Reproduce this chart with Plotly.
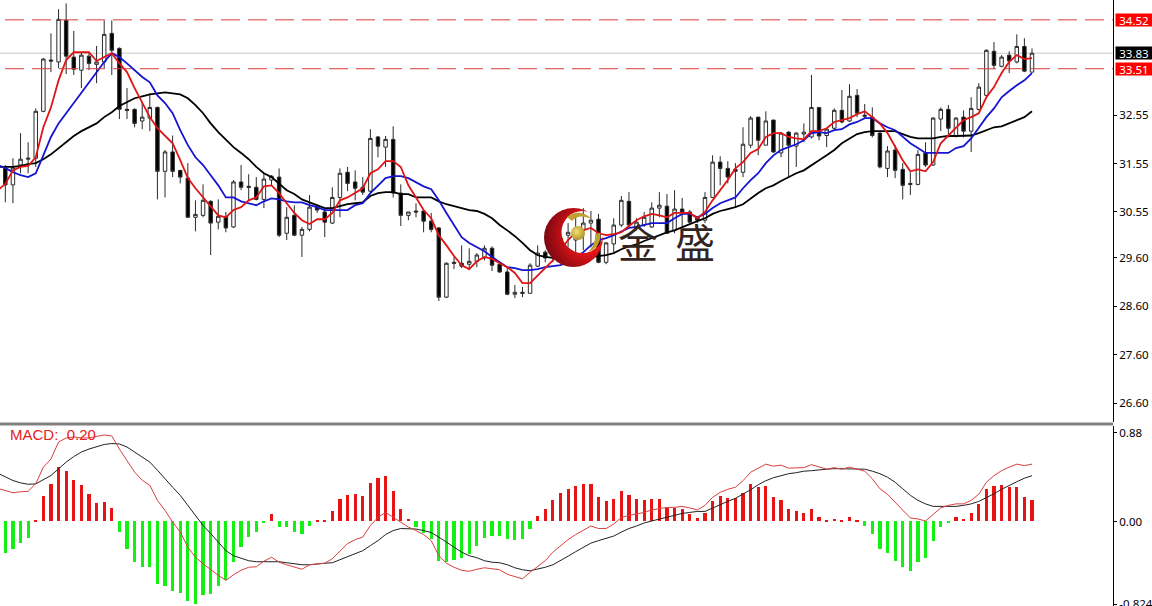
import base64
import plotly.graph_objects as go
from plotly.subplots import make_subplots

directions = ("DUUUUUDUDD" "UDUUDDDDUU" "DUDDDUUDUD" "UDDDUUDUDU" "UDDUUDDDUD"
              "UDDUDDDDUD" "DUUUDDDUDU" "UDUUUUUUDU" "UUDUUUUDUD" "DDUUDDDUUD"
              "UDUDUUUDUU" "DUDDDDUDDD" "UDUUDUDUUU" "DUDUDU")

highs = [31.52,31.66,32.18,31.99,32.69,33.73,34.24,34.74,34.86,34.29,
33.85,33.85,33.98,34.51,34.51,33.95,33.11,32.69,32.82,33.00,
32.73,31.83,32.13,31.41,31.56,30.79,31.12,30.79,30.81,30.55,
31.21,31.52,31.33,31.27,31.35,31.31,31.45,30.65,30.69,30.24,
30.90,30.69,30.63,31.06,31.45,31.48,31.41,31.27,32.26,32.12,
32.12,32.32,31.12,30.55,30.73,30.59,30.53,30.24,29.51,29.62,
29.86,29.80,29.70,29.86,29.84,29.51,29.39,29.04,29.00,29.49,
29.86,29.76,29.91,30.28,30.32,30.48,30.63,30.57,30.51,29.93,
30.42,30.88,30.96,30.42,30.55,30.75,30.96,30.92,31.00,30.84,
30.59,30.44,30.96,31.72,31.70,31.60,31.56,32.30,32.53,32.51,
32.63,32.45,32.20,32.22,32.20,32.38,33.38,32.71,32.28,32.69,
33.07,33.19,33.09,32.78,32.71,32.20,31.91,31.93,31.56,31.37,
31.83,31.99,32.51,32.71,32.76,32.51,32.65,32.92,33.21,33.91,
34.06,33.79,33.87,34.22,34.14,33.93]

body_tops = [31.46,31.46,31.64,31.66,32.63,33.71,33.69,34.53,34.51,33.75,
33.79,33.77,33.65,34.22,34.24,33.93,32.67,32.67,32.51,32.71,
32.71,31.79,31.79,31.41,31.25,30.50,30.79,30.77,30.46,30.46,
31.17,31.17,31.08,31.06,31.23,31.29,31.27,30.44,30.48,30.19,
30.65,30.65,30.55,30.85,31.35,31.37,31.17,31.06,32.07,32.10,
32.05,32.05,30.94,30.55,30.57,30.57,30.36,30.22,29.49,29.51,
29.49,29.53,29.66,29.80,29.80,29.47,29.31,28.89,28.89,29.45,
29.70,29.72,29.87,30.01,30.13,30.22,30.32,30.38,30.40,29.91,
30.28,30.79,30.77,30.34,30.44,30.63,30.69,30.67,30.61,30.61,
30.55,30.44,30.85,31.58,31.58,31.45,31.43,31.95,32.49,32.51,
32.43,32.45,32.18,32.20,32.18,32.20,32.71,32.71,32.26,32.65,
32.65,32.94,32.96,32.55,32.51,32.18,31.81,31.83,31.43,31.14,
31.74,31.77,32.49,32.67,32.67,32.49,32.51,32.69,33.13,33.89,
33.87,33.75,33.79,33.97,33.97,33.83]

body_bottoms = [31.11,31.11,31.52,31.64,31.66,32.63,33.67,33.65,33.77,33.50,
33.48,33.62,33.60,33.65,33.89,32.67,32.65,32.38,32.43,32.49,
31.39,31.39,31.39,31.27,30.44,30.44,30.48,30.32,30.34,30.22,
30.24,31.06,31.06,30.81,30.81,31.21,30.07,30.11,30.07,30.07,
30.19,30.59,30.34,30.32,30.85,31.14,31.04,30.96,30.98,31.91,
31.89,30.94,30.48,30.48,30.55,30.36,30.19,28.79,28.79,29.49,
29.43,29.47,29.53,29.60,29.45,29.31,28.85,28.85,28.87,28.87,
29.43,29.60,29.66,29.80,30.07,29.97,30.17,30.32,29.51,29.51,
29.89,30.28,30.28,30.24,30.28,30.24,30.63,30.11,30.17,30.55,
30.34,30.38,30.38,30.85,31.45,31.27,31.39,31.37,31.93,32.03,
31.93,31.79,31.77,31.93,31.91,32.16,32.10,32.12,32.13,32.28,
32.41,32.43,32.59,32.53,32.13,31.48,31.45,31.41,31.10,31.12,
31.12,31.52,31.52,32.47,32.28,32.12,32.22,32.22,32.67,32.96,
33.58,33.56,33.67,33.65,33.46,33.44]

lows = [30.75,30.73,31.35,31.35,31.48,32.61,33.44,33.52,33.40,33.38,
33.11,33.48,33.21,33.52,33.38,32.47,32.47,32.30,32.26,32.22,
30.81,30.85,31.27,31.14,30.44,30.15,30.44,29.66,30.19,30.13,
30.22,31.00,30.79,30.79,30.63,31.10,30.03,29.97,30.05,29.62,
30.15,30.53,30.03,30.30,30.44,30.98,30.79,30.90,30.96,31.68,
31.48,30.85,30.26,30.38,30.44,30.13,30.13,28.71,28.77,29.37,
29.39,29.35,29.41,29.55,29.33,29.29,28.83,28.77,28.79,28.87,
29.41,29.51,29.51,29.60,29.82,29.72,29.76,29.82,29.49,29.47,
29.72,30.24,30.24,30.17,30.24,30.22,30.44,30.11,30.11,30.24,
30.32,30.32,30.32,30.85,31.10,31.14,30.65,31.27,31.87,31.72,
31.93,31.77,31.68,31.27,31.48,31.99,32.07,32.03,31.89,32.24,
32.38,32.41,32.51,32.49,32.09,31.45,31.27,31.25,30.81,30.90,
31.10,31.48,31.50,32.22,32.09,32.09,32.09,31.79,32.65,32.92,
33.50,33.54,33.42,33.62,33.44,33.44]

# line series start one bar before the first visible candle, as the chart is cut at its left edge
ma_red = [31.00,31.13,31.41,31.48,31.50,31.68,32.30,32.71,33.27,33.69,33.85,
33.85,33.85,33.67,33.75,33.83,33.62,33.44,33.11,32.80,32.51,
32.28,32.13,31.97,31.62,31.25,31.04,30.85,30.67,30.48,30.44,
30.59,30.65,30.79,30.85,31.08,31.10,30.94,30.73,30.53,30.38,
30.30,30.40,30.40,30.53,30.79,30.85,30.94,31.04,31.35,31.43,
31.60,31.60,31.48,31.10,30.85,30.59,30.42,30.07,29.86,29.64,
29.45,29.37,29.53,29.62,29.58,29.49,29.41,29.29,29.08,29.08,
29.24,29.39,29.55,29.76,29.97,30.13,30.17,30.22,30.11,30.07,
30.09,30.13,30.26,30.38,30.46,30.51,30.48,30.44,30.53,30.53,
30.53,30.42,30.55,30.79,31.00,31.21,31.45,31.58,31.77,31.85,
32.10,32.18,32.18,32.10,32.07,32.05,32.22,32.22,32.28,32.41,
32.45,32.49,32.57,32.63,32.51,32.38,32.18,31.89,31.62,31.39,
31.43,31.39,31.58,31.97,32.13,32.30,32.45,32.51,32.59,32.92,
33.13,33.42,33.65,33.79,33.71,33.73]

ma_blue = [31.52,31.46,31.37,31.31,31.27,31.35,31.72,32.10,32.38,32.59,32.80,
33.00,33.21,33.42,33.65,33.83,33.75,33.62,33.48,33.34,33.23,
32.96,32.80,32.59,32.24,31.93,31.68,31.52,31.31,31.10,30.85,
30.85,30.77,30.73,30.69,30.77,30.83,30.81,30.77,30.75,30.75,
30.69,30.65,30.59,30.59,30.59,30.59,30.69,30.73,30.94,31.10,
31.25,31.29,31.29,31.25,31.17,31.08,31.02,30.79,30.53,30.28,
30.03,29.91,29.82,29.74,29.62,29.51,29.41,29.39,29.35,29.35,
29.37,29.41,29.43,29.45,29.51,29.60,29.72,29.86,29.97,30.01,
30.07,30.15,30.22,30.24,30.28,30.32,30.32,30.32,30.42,30.51,
30.51,30.44,30.51,30.63,30.73,30.79,30.85,31.04,31.21,31.35,
31.56,31.72,31.83,31.89,31.95,32.03,32.18,32.20,32.18,32.24,
32.26,32.36,32.41,32.49,32.49,32.38,32.30,32.24,32.10,31.97,
31.87,31.77,31.77,31.77,31.77,31.87,31.91,32.07,32.28,32.51,
32.69,32.92,33.05,33.17,33.27,33.42]

ma_black = [31.48,31.48,31.48,31.50,31.54,31.56,31.64,31.74,31.87,31.99,32.12,
32.22,32.30,32.38,32.51,32.61,32.74,32.82,32.90,32.94,32.98,
33.00,33.02,33.00,32.98,32.90,32.76,32.59,32.38,32.20,32.05,
31.89,31.77,31.64,31.48,31.35,31.27,31.14,31.00,30.92,30.81,
30.75,30.69,30.63,30.63,30.67,30.71,30.73,30.75,30.88,30.94,
30.96,30.96,30.92,30.92,30.85,30.85,30.85,30.77,30.71,30.67,
30.63,30.59,30.57,30.51,30.42,30.28,30.17,30.05,29.91,29.76,
29.66,29.62,29.60,29.58,29.58,29.60,29.60,29.62,29.64,29.66,
29.70,29.78,29.84,29.88,29.95,30.01,30.07,30.13,30.17,30.24,
30.30,30.36,30.42,30.51,30.57,30.61,30.65,30.71,30.83,30.94,
31.04,31.10,31.19,31.27,31.35,31.41,31.52,31.62,31.72,31.83,
31.97,32.07,32.16,32.20,32.22,32.22,32.22,32.22,32.16,32.10,
32.07,32.07,32.07,32.10,32.12,32.12,32.12,32.13,32.18,32.24,
32.30,32.32,32.38,32.45,32.51,32.63]

macd_hist = [-.315,-.27,-.21,-.165,.01,.25,.375,.54,.505,.415,
.36,.27,.185,.195,.135,-.105,-.27,-.40,-.455,-.455,
-.625,-.64,-.69,-.71,-.795,-.82,-.735,-.72,-.64,-.585,
-.40,-.255,-.155,-.105,-.01,.07,-.05,-.055,-.105,-.12,
-.04,.01,.01,.10,.22,.26,.27,.25,.385,.43,
.455,.30,.125,.02,-.05,-.115,-.17,-.39,-.40,-.38,
-.36,-.32,-.24,-.16,-.14,-.14,-.17,-.18,-.17,-.07,
.055,.12,.215,.28,.325,.35,.37,.37,.24,.205,
.225,.30,.26,.22,.215,.225,.22,.135,.13,.12,
.07,.03,.08,.205,.25,.23,.23,.28,.375,.34,
.355,.24,.215,.125,.10,.08,.12,.04,.015,.025,
.01,.04,.01,-.04,-.12,-.275,-.31,-.39,-.455,-.495,
-.40,-.36,-.19,-.05,-.01,.04,.02,.08,.17,.32,
.35,.365,.34,.34,.24,.21]

macd_black = [.48,.447,.407,.384,.37,.374,.414,.457,.523,.59,.645,
.69,.72,.745,.765,.775,.77,.74,.69,.64,.59,
.51,.42,.34,.26,.16,.06,-.04,-.12,-.205,-.29,
-.34,-.365,-.39,-.40,-.40,-.395,-.40,-.41,-.42,-.43,
-.43,-.42,-.415,-.41,-.38,-.35,-.315,-.29,-.24,-.19,
-.13,-.09,-.07,-.07,-.075,-.09,-.11,-.155,-.205,-.26,
-.305,-.34,-.36,-.39,-.405,-.41,-.43,-.46,-.48,-.49,
-.475,-.455,-.43,-.39,-.345,-.30,-.255,-.215,-.19,-.165,
-.145,-.105,-.07,-.045,-.015,.005,.025,.04,.06,.08,
.09,.10,.10,.135,.17,.20,.23,.27,.315,.365,
.405,.435,.455,.475,.485,.50,.505,.515,.52,.525,
.525,.525,.525,.52,.50,.475,.44,.39,.325,.26,
.21,.175,.15,.15,.15,.15,.16,.175,.20,.235,
.275,.32,.36,.395,.43,.455]

macd_red = [.33,.31,.285,.295,.30,.375,.54,.62,.79,.83,.84,
.83,.83,.845,.86,.85,.72,.605,.49,.41,.36,
.21,.11,-.005,-.105,-.255,-.355,-.42,-.48,-.535,-.585,
-.53,-.485,-.455,-.45,-.395,-.355,-.405,-.43,-.455,-.475,
-.43,-.42,-.415,-.37,-.29,-.22,-.18,-.155,-.04,.04,
.09,.04,-.005,-.055,-.09,-.13,-.19,-.34,-.415,-.455,
-.485,-.495,-.475,-.46,-.47,-.48,-.525,-.55,-.57,-.505,
-.445,-.39,-.305,-.245,-.18,-.13,-.09,-.045,-.07,-.07,
-.025,.04,.06,.075,.09,.115,.13,.14,.14,.15,
.135,.115,.16,.24,.29,.32,.34,.405,.49,.53,
.57,.55,.56,.53,.53,.535,.565,.54,.52,.535,
.52,.54,.52,.50,.425,.325,.27,.19,.11,.035,
.025,.005,.07,.135,.16,.175,.175,.21,.27,.39,
.455,.505,.54,.57,.555,.57]

price_ticks = [32.55, 31.55, 30.55, 29.60, 28.60, 27.60, 26.60]
macd_ticks = [0.88, 0.00, -0.824]
macd_tick_labels = ["0.88", "0.00", "-0.824"]
resistance = 34.52
support = 33.51
last_price = 33.83

for arr in (highs, body_tops, body_bottoms, lows, macd_hist, list(directions)):
    assert len(arr) == 136, len(arr)
for arr in (ma_red, ma_blue, ma_black, macd_black, macd_red):
    assert len(arr) == 137, len(arr)

W, H, AXIS_X = 1152, 606, 1113
idx = list(range(len(highs)))
line_idx = [-1] + idx
opens = [b if d == "U" else t for d, t, b in zip(directions, body_tops, body_bottoms)]
closes = [t if d == "U" else b for d, t, b in zip(directions, body_tops, body_bottoms)]

fig = make_subplots(rows=2, cols=1, shared_xaxes=True)

fig.add_trace(go.Candlestick(
    x=idx, open=opens, high=highs, low=lows, close=closes,
    increasing=dict(line=dict(color="#2a2a2a", width=1), fillcolor="#ffffff"),
    decreasing=dict(line=dict(color="#2a2a2a", width=1), fillcolor="#000000"),
    whiskerwidth=0, showlegend=False, hoverinfo="skip"), row=1, col=1)
for vals, col in ((ma_black, "#000000"), (ma_blue, "#1414d2"), (ma_red, "#e01414")):
    fig.add_trace(go.Scatter(x=line_idx, y=vals, mode="lines", showlegend=False,
                             line=dict(color=col, width=1.8), hoverinfo="skip"), row=1, col=1)

fig.add_trace(go.Bar(x=idx, y=macd_hist, width=0.42,
                     marker=dict(color=["#e81414" if v > 0 else "#14f014" for v in macd_hist], line=dict(width=0)),
                     showlegend=False, hoverinfo="skip"), row=2, col=1)
fig.add_trace(go.Scatter(x=line_idx, y=macd_black, mode="lines", showlegend=False,
                         line=dict(color="#222222", width=1), hoverinfo="skip"), row=2, col=1)
fig.add_trace(go.Scatter(x=line_idx, y=macd_red, mode="lines", showlegend=False,
                         line=dict(color="#d84040", width=1), hoverinfo="skip"), row=2, col=1)

fig.add_shape(type="line", xref="paper", yref="y", x0=0, x1=1, y0=last_price, y1=last_price,
              line=dict(color="#c8c8c8", width=1), layer="below")
for level in (resistance, support):
    fig.add_shape(type="line", xref="paper", yref="y", x0=5 / AXIS_X, x1=1, y0=level, y1=level,
                  line=dict(color="#d83c3c", width=1, dash="19px,8px"))
fig.add_shape(type="line", xref="paper", yref="paper", x0=0, x1=1, y0=1 - 424 / H, y1=1 - 424 / H,
              line=dict(color="#808080", width=3))

for level, bg, txt in ((resistance, "#ff0000", "34.52"), (last_price, "#000000", "33.83"), (support, "#ff0000", "33.51")):
    fig.add_annotation(xref="paper", yref="y", x=1, xshift=2, xanchor="left", y=level, yanchor="middle",
                       text=txt, showarrow=False, bgcolor=bg, width=36, height=12, borderpad=0,
                       font=dict(family="Noto Sans", size=11.5, color="#ffffff"))

fig.add_annotation(xref="paper", yref="paper", x=8 / AXIS_X, xanchor="left", y=1 - 434 / H, yanchor="middle",
                   text="MACD:&nbsp; 0.20", showarrow=False,
                   font=dict(family="Liberation Sans", size=15, color="#e82020"))

for ch, px in (("金", 638), ("盛", 695)):
    fig.add_annotation(xref="paper", yref="paper", x=px / AXIS_X, xanchor="center", y=1 - 241 / H, yanchor="middle",
                       text=ch, showarrow=False,
                       font=dict(family="Noto Sans CJK SC", size=40, color="#33241f"))

logo_svg = """<svg xmlns="http://www.w3.org/2000/svg" width="64" height="64" viewBox="0 0 64 64">
<defs>
<radialGradient id="r" cx="0.75" cy="0.45" r="0.75"><stop offset="0.35" stop-color="#f01818"/><stop offset="0.75" stop-color="#a80c14"/><stop offset="1" stop-color="#7a0a10"/></radialGradient>
<radialGradient id="g" cx="0.4" cy="0.4" r="0.7"><stop offset="0" stop-color="#f4e070"/><stop offset="1" stop-color="#a88a20"/></radialGradient>
<mask id="m"><rect width="64" height="64" fill="white"/><circle cx="41.5" cy="26" r="21" fill="black"/></mask>
</defs>
<circle cx="32.5" cy="31.5" r="29.5" fill="url(#r)" mask="url(#m)"/>
<path d="M26 11 Q38 1 51 13 Q38 7 31 15 Z" fill="#bfa030"/>
<path d="M59 27 Q61 41 47 46 Q55 38 54 28 Z" fill="#bfa030"/>
<circle cx="37" cy="27" r="7" fill="url(#g)"/>
</svg>"""
fig.add_layout_image(dict(
    source="data:image/svg+xml;base64," + base64.b64encode(logo_svg.encode()).decode(),
    xref="paper", yref="paper", x=541 / AXIS_X, y=1 - 206 / H, sizex=64 / AXIS_X, sizey=64 / H,
    xanchor="left", yanchor="top", sizing="stretch", layer="above"))

fig.update_layout(
    width=W, height=H, margin=dict(l=0, r=W - AXIS_X, t=0, b=0, autoexpand=False),
    paper_bgcolor="#ffffff", plot_bgcolor="#ffffff", showlegend=False,
    boxgap=0.35, bargap=0,
    font=dict(family="Noto Sans", size=11.5, color="#000000"),
    dragmode=False,
)
fig.update_xaxes(range=[-0.7, 145.65], visible=False, fixedrange=True, automargin=False,
                 rangeslider=dict(visible=False))
fig.update_yaxes(domain=[1 - 422 / H, 1], range=[26.21, 34.93], side="right", tickmode="array",
                 tickvals=price_ticks, ticktext=[f"{v:.2f}" for v in price_ticks], automargin=False,
                 ticks="outside", ticklen=3, tickcolor="#000000", showgrid=False, zeroline=False,
                 showline=True, linecolor="#000000", linewidth=1, fixedrange=True, row=1, col=1)
fig.update_yaxes(domain=[0, 180 / H], range=[-0.84, 0.949], side="right", tickmode="array",
                 tickvals=macd_ticks, ticktext=macd_tick_labels, ticklabeloverflow="allow", automargin=False,
                 ticks="outside", ticklen=3, tickcolor="#000000", showgrid=False, zeroline=False,
                 showline=True, linecolor="#000000", linewidth=1, fixedrange=True, row=2, col=1)

fig.write_html("out.html", config={"displayModeBar": False},
               post_script="document.body.style.margin='0';document.body.style.overflow='hidden';")
